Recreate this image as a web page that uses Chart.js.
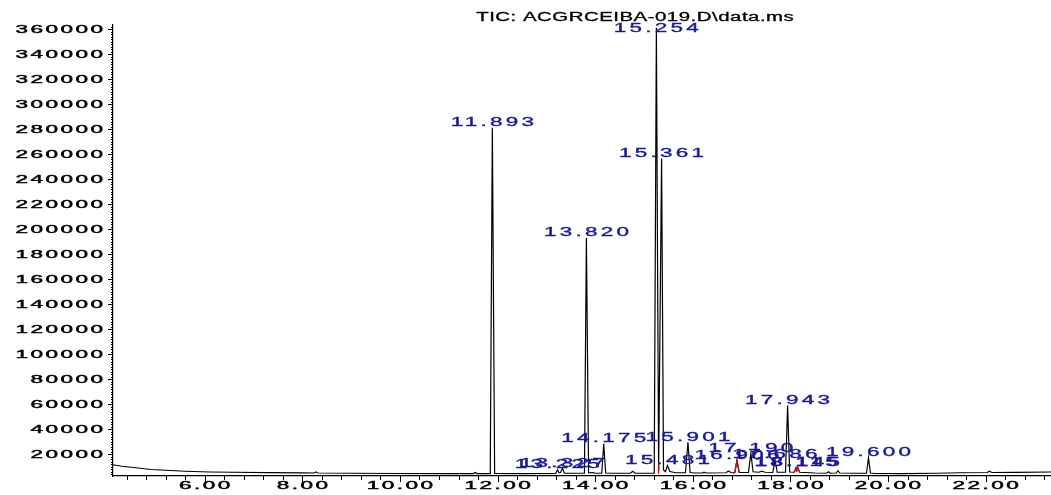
<!doctype html>
<html>
<head>
<title>TIC chromatogram</title>
<script src="https://cdn.jsdelivr.net/npm/chart.js@4.4.1/dist/chart.umd.min.js"></script>
<style>
  body { margin: 0; background: #fff; }
  canvas { display: block; }
</style>
</head>
<body>
<canvas id="chart-area" width="1051" height="495"></canvas>
<script>
var title = 'TIC: ACGRCEIBA-019.D\\data.ms';

// retention time (min), abundance
var trace = [
  [4.12, 11800], [4.3, 10600], [4.5, 9800], [4.9, 8000], [5.3, 7200], [5.6, 6600],
  [6.1, 6000], [6.6, 5800], [7.3, 5500], [8.0, 5300], [8.24, 5200], [8.28, 6000],
  [8.32, 5200], [9.0, 5000], [10.0, 4800], [11.0, 4700], [11.5, 4700], [11.54, 5600],
  [11.58, 4700], [11.85, 4700], [11.893, 281000], [11.94, 4800], [12.5, 4700],
  [13.19, 4800], [13.227, 7800], [13.26, 5400], [13.29, 5600], [13.327, 9000],
  [13.37, 5000], [13.78, 5000], [13.82, 193000], [13.865, 5400], [13.95, 5600],
  [14.0, 5000], [14.135, 5000], [14.175, 28600], [14.215, 5200], [14.3, 5000],
  [14.72, 5000], [14.77, 6600], [14.82, 5000], [15.21, 5000], [15.254, 361000],
  [15.3, 7000], [15.361, 256500], [15.4, 7600], [15.44, 6200], [15.481, 11200],
  [15.53, 6400], [15.65, 5400], [15.85, 5400], [15.901, 29800], [15.945, 5600],
  [16.05, 5200], [16.2, 5200], [16.23, 5800], [16.27, 5200], [16.68, 5400],
  [16.73, 6800], [16.78, 5600], [16.86, 5400], [16.906, 15200], [16.95, 5600],
  [17.14, 5600], [17.19, 21000], [17.235, 6200], [17.35, 5800], [17.42, 6600],
  [17.48, 5800], [17.64, 5600], [17.686, 15700], [17.73, 5800], [17.9, 5800],
  [17.943, 59200], [17.985, 6000], [18.08, 5800], [18.115, 9400], [18.13, 8200],
  [18.145, 9700], [18.19, 5800], [18.5, 5200], [18.74, 5000], [18.78, 6200],
  [18.82, 5000], [18.94, 5200], [18.975, 7000], [19.01, 5200], [19.3, 5000],
  [19.56, 5000], [19.6, 17400], [19.64, 5200], [19.72, 4800], [20.3, 4700],
  [21.0, 5000], [21.5, 5400], [22.03, 5600], [22.08, 6600], [22.13, 5600],
  [22.6, 5700], [23.34, 6000]
];

// integration marks (red), null breaks the line
var integration = [
  [15.3, 4600], [15.3, 13000], [15.31, null],
  [16.86, 5400], [16.906, 15200], [16.95, 5600], [16.96, null],
  [18.08, 5800], [18.115, 9400], [18.13, 8200], [18.145, 9700], [18.19, 5800]
];

var peakTimes   = [11.893, 13.225, 13.327, 13.820, 14.175, 15.254, 15.361, 15.481,
                   15.901, 16.906, 17.190, 17.686, 17.943, 18.115, 18.145, 19.600];
var peakHeights = [281000, 7800, 9000, 193000, 28600, 361000, 256500, 11200,
                   29800, 15200, 21000, 15700, 59200, 9400, 9700, 17400];

var xMin = 4.12, xMax = 23.34, xMinor = 0.4, xMajor = 2;
var yMin = 2800, yMax = 363200, yMinor = 2000, yMajor = 20000;

function toPoints(arr) {
  return arr.map(function (p) { return { x: p[0], y: p[1] }; });
}

function stepTicks(min, max, step, major) {
  var out = [];
  for (var v = Math.ceil(min / step) * step; v <= max + 1e-9; v += step) {
    var r = Math.round(v * 1000) / 1000;
    out.push({ value: r, major: Math.abs(r / major - Math.round(r / major)) < 1e-6 });
  }
  return out;
}

function wideText(ctx, str, x, y, o) {
  ctx.save();
  ctx.font = o.size + 'px "Liberation Sans", Arial, sans-serif';
  ctx.letterSpacing = o.ls + 'px';
  ctx.fillStyle = o.color;
  ctx.strokeStyle = o.color;
  ctx.lineWidth = o.bold || 0;
  ctx.textBaseline = 'alphabetic';
  ctx.textAlign = 'left';
  var w = (ctx.measureText(str).width - o.ls) * o.sx;
  var left = o.align === 'center' ? x - w / 2 : (o.align === 'right' ? x - w : x);
  ctx.translate(left, y);
  ctx.scale(o.sx, 1);
  ctx.fillText(str, 0, 0);
  if (o.bold) ctx.strokeText(str, 0, 0);
  ctx.restore();
}

var axisFont = { size: 11, ls: 1.2, sx: 2.05, color: '#000', bold: 0.45 };

var decorations = {
  id: 'decorations',
  afterDraw: function (chart) {
    var ctx = chart.ctx, xs = chart.scales.x, ys = chart.scales.y;
    ctx.save();
    ctx.strokeStyle = '#000';
    ctx.lineWidth = 1;
    ctx.beginPath();
    xs.ticks.forEach(function (t) {
      var px = Math.round(xs.getPixelForValue(t.value)) + 0.5;
      ctx.moveTo(px, xs.top);
      ctx.lineTo(px, xs.top + (t.major ? 6 : 4));
    });
    ys.ticks.forEach(function (t) {
      var py = Math.round(ys.getPixelForValue(t.value)) + 0.5;
      ctx.moveTo(ys.right, py);
      ctx.lineTo(ys.right - (t.major ? 5 : 2), py);
    });
    ctx.stroke();
    ctx.restore();

    xs.ticks.forEach(function (t) {
      if (!t.major) return;
      wideText(ctx, t.value.toFixed(2), xs.getPixelForValue(t.value), xs.top + 13,
        Object.assign({ align: 'center' }, axisFont));
    });
    ys.ticks.forEach(function (t) {
      if (!t.major) return;
      wideText(ctx, String(t.value), ys.right - 10, ys.getPixelForValue(t.value) + 4,
        Object.assign({ align: 'right' }, axisFont));
    });

    peakTimes.forEach(function (t, i) {
      var y = Math.max(ys.getPixelForValue(peakHeights[i]) - 1.5, ys.top + 7);
      wideText(ctx, t.toFixed(3), xs.getPixelForValue(t), y,
        { size: 12.5, ls: 1.8, sx: 1.8, color: '#1a1a96', align: 'center', bold: 0.35 });
    });

    wideText(ctx, title, 635, 21, { size: 12, ls: 0.3, sx: 1.7, color: '#000', align: 'center', bold: 0.3 });
  }
};

var ctx = document.getElementById('chart-area').getContext('2d');

var chart = new Chart(ctx, {
  type: 'scatter',
  data: {
    datasets: [
      {
        data: toPoints(integration),
        showLine: true,
        spanGaps: false,
        borderColor: '#b01818',
        borderWidth: 1.4,
        pointRadius: 0,
        tension: 0
      },
      {
        data: toPoints(trace),
        showLine: true,
        borderColor: '#000',
        borderWidth: 1.2,
        pointRadius: 0,
        tension: 0
      }
    ]
  },
  options: {
    responsive: false,
    animation: false,
    layout: { padding: { left: 113, top: 25, right: 0, bottom: 19 } },
    plugins: { legend: { display: false }, tooltip: { enabled: false }, title: { display: false } },
    scales: {
      x: {
        type: 'linear', min: xMin, max: xMax,
        grid: { display: false, drawTicks: false },
        ticks: { display: false },
        border: { color: '#000', width: 1.2 },
        afterBuildTicks: function (s) { s.ticks = stepTicks(xMin, xMax, xMinor, xMajor); }
      },
      y: {
        type: 'linear', min: yMin, max: yMax,
        grid: { display: false, drawTicks: false },
        ticks: { display: false },
        border: { color: '#000', width: 1.2 },
        afterBuildTicks: function (s) { s.ticks = stepTicks(yMin, yMax, yMinor, yMajor); }
      }
    }
  },
  plugins: [decorations]
});
</script>
</body>
</html>
